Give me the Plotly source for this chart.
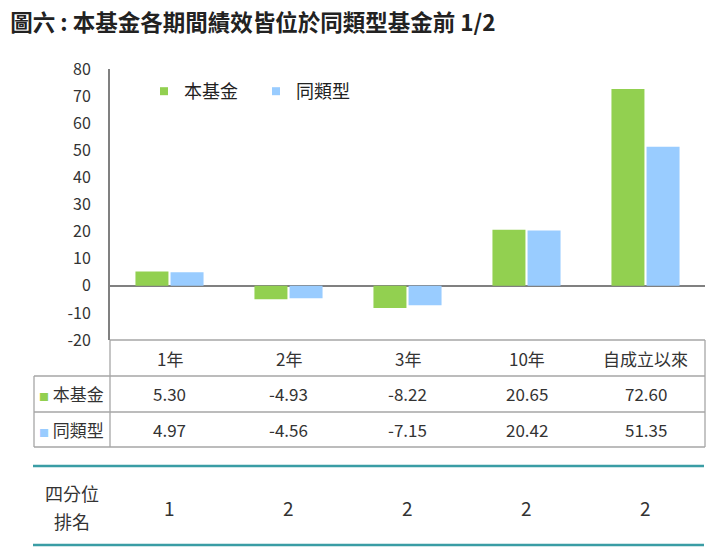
import plotly.graph_objects as go

W, H = 725, 559

# data
periods = ["1年", "2年", "3年", "10年", "自成立以來"]
fund = [5.30, -4.93, -8.22, 20.65, 72.60]
peer = [4.97, -4.56, -7.15, 20.42, 51.35]
quartile = [1, 2, 2, 2, 2]
y_ticks = [-20, -10, 0, 10, 20, 30, 40, 50, 60, 70, 80]

GREEN = "#92D050"
BLUE = "#99CCFF"
TEAL = "#3A9DA5"
GRID = "#A6A6A6"
TXT = "#333333"
FONT = "Noto Sans CJK TC"

# the page puts the figure 8px in from the window corner
OFF = 8


def px(x):
    return (x - OFF) / W


def py(y):
    return 1 - (y - OFF) / H


# plot area in window pixels
X0, X1 = 110, 705
Y_TOP, Y_BOT = 69, 340

fig = go.Figure()
fig.add_trace(go.Bar(x=periods, y=fund, name="本基金", showlegend=False,
                     marker=dict(color=GREEN, line_width=0)))
fig.add_trace(go.Bar(x=periods, y=peer, name="同類型", showlegend=False,
                     marker=dict(color=BLUE, line_width=0)))
# small square legend keys like the original
for name, col in [("本基金", GREEN), ("同類型", BLUE)]:
    fig.add_trace(go.Scatter(x=[None], y=[None], mode="markers", name=name,
                             marker=dict(symbol="square", size=8, color=col)))

fig.update_layout(
    width=W, height=H,
    margin=dict(l=0, r=0, t=0, b=0),
    paper_bgcolor="white", plot_bgcolor="white",
    barmode="group", bargap=0.41, bargroupgap=0.06,
    font=dict(family=FONT, color=TXT),
    title=dict(text="<b>圖六 : 本基金各期間績效皆位於同類型基金前 1/2</b>",
               x=0.003, xanchor="left", y=py(23), yanchor="middle",
               font=dict(size=22.5, color="#222222", family=FONT)),
    legend=dict(orientation="h", x=px(144), xanchor="left", y=py(73), yanchor="top",
                font=dict(size=18, color="#222222"), bgcolor="rgba(0,0,0,0)",
                itemwidth=30, tracegroupgap=0, entrywidth=67, entrywidthmode="pixels"),
    xaxis=dict(domain=[px(X0), px(X1)], showticklabels=False, showline=False,
               showgrid=False, zeroline=False, automargin=False),
    yaxis=dict(domain=[py(Y_BOT), py(Y_TOP)], range=[-20, 80], tickvals=y_ticks,
               ticktext=[str(v) for v in y_ticks],
               showgrid=False, showline=True, linecolor="#808080", linewidth=2,
               zeroline=True, zerolinecolor="#808080", zerolinewidth=2,
               ticks="", ticklabelstandoff=14, automargin=False,
               tickfont=dict(size=16, color=TXT)),
)

shapes = []


def hline(y, xa, xb, color=GRID, width=1.3):
    shapes.append(dict(type="line", xref="paper", yref="paper",
                       x0=px(xa), x1=px(xb), y0=py(y), y1=py(y),
                       line=dict(color=color, width=width)))


def vline(x, ya, yb, color=GRID, width=1.3):
    shapes.append(dict(type="line", xref="paper", yref="paper",
                       x0=px(x), x1=px(x), y0=py(ya), y1=py(yb),
                       line=dict(color=color, width=width)))


# data table under the chart
hline(340, X0, X1)
hline(376, 34, X1)
hline(412, 34, X1)
hline(447, 34, X1)
vline(34, 376, 447)
vline(X0, 340, 447)
vline(X1, 340, 447)
# ranking block
hline(466, 33, 704, TEAL, 2.5)
hline(545, 33, 704, TEAL, 2.5)

fig.update_layout(shapes=shapes)

col_w = (X1 - X0) / len(periods)
ann = []
for i, p in enumerate(periods):
    cx = px(X0 + col_w * (i + 0.5))
    ann.append(dict(x=cx, y=py(358), text=p, font=dict(size=17)))
    ann.append(dict(x=cx, y=py(393), text=f"{fund[i]:.2f}", font=dict(size=17)))
    ann.append(dict(x=cx, y=py(429), text=f"{peer[i]:.2f}", font=dict(size=17)))
    ann.append(dict(x=cx, y=py(507), text=str(quartile[i]), font=dict(size=19)))

sq = "<span style='font-size:10px;color:%s'>■</span> "
ann.append(dict(x=px(72), y=py(393), text=sq % GREEN + "本基金", font=dict(size=17)))
ann.append(dict(x=px(72), y=py(429), text=sq % BLUE + "同類型", font=dict(size=17)))
ann.append(dict(x=px(72), y=py(493), text="四分位", font=dict(size=18)))
ann.append(dict(x=px(72), y=py(521), text="排名", font=dict(size=18)))

for a in ann:
    a.update(xref="paper", yref="paper", showarrow=False, xanchor="center", yanchor="middle")
    a["font"].update(color=TXT, family=FONT)
fig.update_layout(annotations=ann)

fig.write_html("out.html")
